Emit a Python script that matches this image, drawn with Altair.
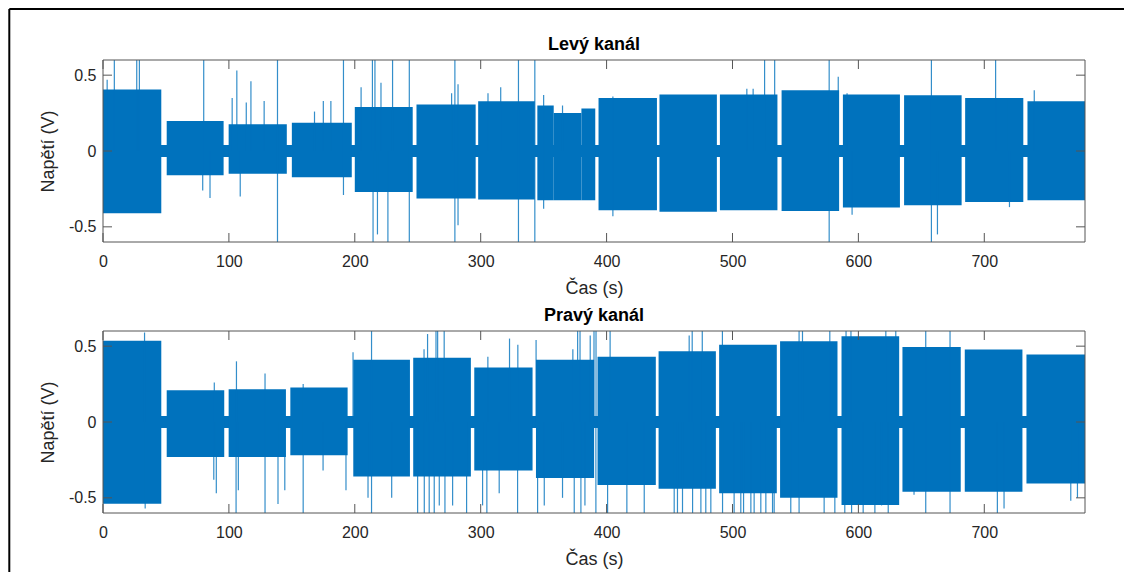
import altair as alt
import pandas as pd

BLUE = "#0072BD"
FONT = "Liberation Sans"

# ---------------- data ----------------
TICKS_X = [0, 100, 200, 300, 400, 500, 600, 700]
TICKS_Y = [-0.5, 0, 0.5]

# idle level between blocks (both channels)
IDLE_T0 = [0]
IDLE_T1 = [780]
IDLE_LO = [-0.04]
IDLE_HI = [0.04]

# Left channel: signal blocks (s, V)
L_start = [0, 50.6, 99.8, 150, 200, 249, 298, 345, 358, 380, 393.6, 442, 490, 539, 587.7, 636.3, 684.8, 734.3]
L_end = [46.3, 95.8, 146, 197.6, 246, 296, 343, 358, 380, 391, 440, 487.6, 535.7, 584.7, 633, 682, 731, 780]
L_upper = [0.405, 0.197, 0.176, 0.186, 0.29, 0.306, 0.328, 0.30, 0.25, 0.28, 0.35, 0.372, 0.372, 0.40, 0.372, 0.367, 0.35, 0.328]
L_lower = [-0.41, -0.16, -0.15, -0.173, -0.27, -0.314, -0.32, -0.325, -0.325, -0.325, -0.39, -0.40, -0.39, -0.395, -0.373, -0.358, -0.337, -0.325]

# Left channel spikes
L_up_t = [3.3, 9, 26.8, 28.9, 80, 102.6, 106.3, 113.8, 117.5, 128, 168, 175, 181, 191, 205, 214, 216, 220.8, 230, 276.9,
          282, 305.8, 315.9, 350, 365, 405, 511.4, 516.4, 525.5, 533.5, 584, 591, 709, 718, 739.7]
L_up_v = [0.47, 0.6, 0.6, 0.6, 0.6, 0.35, 0.53, 0.32, 0.46, 0.33, 0.26, 0.33, 0.33, 0.6, 0.42, 0.6, 0.6, 0.45, 0.6, 0.38,
          0.44, 0.38, 0.42, 0.37, 0.30, 0.36, 0.41, 0.41, 0.6, 0.6, 0.49, 0.38, 0.6, 0.34, 0.40]
L_down_t = [79.2, 85, 109, 191, 214.5, 218, 226.3, 282, 350, 405, 595, 662.8, 720]
L_down_v = [-0.26, -0.31, -0.30, -0.29, -0.6, -0.55, -0.6, -0.49, -0.38, -0.43, -0.42, -0.55, -0.37]
L_full_t = [138.6, 243.3, 279.5, 330, 343, 576.8, 658]

# Right channel: signal blocks (s, V)
R_start = [0, 50.6, 99.8, 148.8, 198.8, 246.4, 294.9, 343.9, 392.8, 441.3, 489.4, 537.8, 586.6, 635, 684.5, 733.5]
R_end = [46.3, 96.3, 145.3, 194.3, 243.8, 292.2, 341.2, 390.1, 439.1, 486.8, 535.2, 583.4, 632.4, 681.3, 730.3, 780]
R_upper = [0.535, 0.21, 0.216, 0.227, 0.41, 0.424, 0.36, 0.41, 0.43, 0.467, 0.51, 0.533, 0.566, 0.494, 0.478, 0.445]
R_lower = [-0.539, -0.23, -0.23, -0.22, -0.36, -0.36, -0.32, -0.37, -0.416, -0.44, -0.47, -0.50, -0.547, -0.46, -0.46, -0.406]

# Right channel spikes
R_up_t = [33, 88.4, 106, 128.7, 159, 198.6, 255, 257.8, 264.5, 265.8, 271, 305.7, 322.9, 329.5, 344, 373.2, 377, 378.9,
          387, 390, 391.6, 402.8, 465.6, 468, 476, 492, 552.9, 555.6, 577.3, 590.2, 594.1, 621.8, 629.7, 653.5, 672.8]
R_up_v = [0.59, 0.26, 0.40, 0.32, 0.25, 0.46, 0.48, 0.58, 0.6, 0.6, 0.6, 0.43, 0.55, 0.51, 0.54, 0.48, 0.6, 0.6,
          0.57, 0.6, 0.6, 0.6, 0.57, 0.6, 0.6, 0.6, 0.6, 0.6, 0.6, 0.6, 0.6, 0.6, 0.6, 0.6, 0.6]
R_down_t = [33.5, 88, 90, 105.7, 107.5, 128.7, 139, 144.4, 159, 174.8, 193, 210.5, 229.3, 249.9, 255.2, 259.1, 263.1,
            267.1, 271.6, 277.7, 288.8, 301.5, 304.9, 314.7, 329.3, 345.2, 350.5, 365, 374.3, 379.6, 382.8, 391.5,
            400.8, 416.1, 429.9, 453.7, 456.3, 460.3, 468.3, 474.9, 478.8, 482.8, 492.1, 501.3, 506.6, 508.8, 514.6,
            517.2, 522.5, 526.5, 531.8, 533.1, 546.3, 552.9, 572.8, 581.3, 589.2, 594.6, 603.8, 613.1, 618.4, 623.7,
            644.2, 653.5, 672.8, 710.4, 715.7, 768.7, 774]
R_down_v = [-0.57, -0.38, -0.47, -0.6, -0.45, -0.6, -0.54, -0.45, -0.6, -0.32, -0.45, -0.5, -0.5, -0.6, -0.6, -0.6, -0.6,
            -0.55, -0.6, -0.55, -0.6, -0.55, -0.6, -0.47, -0.6, -0.6, -0.55, -0.5, -0.6, -0.6, -0.55, -0.6,
            -0.6, -0.6, -0.6, -0.6, -0.6, -0.6, -0.6, -0.6, -0.6, -0.6, -0.6, -0.6, -0.6, -0.6, -0.6,
            -0.6, -0.6, -0.6, -0.6, -0.6, -0.6, -0.6, -0.6, -0.6, -0.6, -0.6, -0.6, -0.6, -0.55, -0.6,
            -0.48, -0.6, -0.6, -0.6, -0.57, -0.52, -0.5]
R_full_t = [213.3]

# ---------------- layout / style ----------------
W, H = 982, 182
TICK_LEN = 9
BOX = "#555555"

xs = alt.Scale(domain=[0, 780], nice=False, zero=False)
ys = alt.Scale(domain=[-0.6, 0.6], nice=False, zero=False)
xax = alt.Axis(values=TICKS_X, title="Čas (s)", grid=False, ticks=False, domain=False,
               labelPadding=11, titlePadding=10, labelFontSize=16, titleFontSize=18, labelFlush=False)
yax = alt.Axis(values=TICKS_Y, title="Napětí (V)", grid=False, ticks=False, domain=False,
               labelPadding=7, titlePadding=11, labelFontSize=16, titleFontSize=18,
               labelExpr="toString(datum.value)")


def spikes_df(up_t, up_v, down_t, down_v, full_t):
    t = up_t + down_t + full_t
    lo = [0.0] * len(up_t) + down_v + [-0.6] * len(full_t)
    hi = up_v + [0.0] * len(down_t) + [0.6] * len(full_t)
    return pd.DataFrame({"t": t, "lo": lo, "hi": hi})


def panel(title, start, end, upper, lower, spikes, frame):
    idle = pd.DataFrame({"t0": IDLE_T0, "t1": IDLE_T1, "lo": IDLE_LO, "hi": IDLE_HI})
    seg = pd.DataFrame({"start": start, "end": end, "upper": upper, "lower": lower})
    xt = pd.DataFrame({"v": TICKS_X})
    yt = pd.DataFrame({"v": TICKS_Y})
    one = pd.DataFrame({"title": [title]})

    idle_l = alt.Chart(idle).mark_rect(color=BLUE).encode(
        x=alt.X("t0:Q", scale=xs, axis=xax), x2="t1:Q",
        y=alt.Y("lo:Q", scale=ys, axis=yax), y2="hi:Q")
    seg_l = alt.Chart(seg).mark_rect(color=BLUE).encode(
        x=alt.X("start:Q", scale=xs, axis=xax), x2="end:Q",
        y=alt.Y("lower:Q", scale=ys, axis=yax), y2="upper:Q")
    spk_l = alt.Chart(spikes).mark_rule(color=BLUE, opacity=0.8, strokeWidth=1.2).encode(
        x=alt.X("t:Q", scale=xs, axis=xax),
        y=alt.Y("lo:Q", scale=ys, axis=yax), y2="hi:Q")
    xt_top = alt.Chart(xt).mark_rule(color=BOX).encode(
        x=alt.X("v:Q", scale=xs, axis=xax), y=alt.value(0), y2=alt.value(TICK_LEN))
    xt_bot = alt.Chart(xt).mark_rule(color=BOX).encode(
        x=alt.X("v:Q", scale=xs, axis=xax), y=alt.value(H - TICK_LEN), y2=alt.value(H))
    yt_l = alt.Chart(yt).mark_rule(color=BOX).encode(
        y=alt.Y("v:Q", scale=ys, axis=yax), x=alt.value(0), x2=alt.value(TICK_LEN))
    yt_r = alt.Chart(yt).mark_rule(color=BOX).encode(
        y=alt.Y("v:Q", scale=ys, axis=yax), x=alt.value(W - TICK_LEN), x2=alt.value(W))
    box = alt.Chart(one).mark_rect(fillOpacity=0, stroke=BOX, strokeWidth=1).encode(
        x=alt.value(0), x2=alt.value(W), y=alt.value(0), y2=alt.value(H))
    ttl = alt.Chart(one).mark_text(fontSize=18, fontWeight="bold", color="black", font=FONT,
                                   baseline="alphabetic", align="center").encode(
        text="title:N", x=alt.value(W / 2), y=alt.value(-10.5))
    layers = [idle_l, seg_l, spk_l, xt_top, xt_bot, yt_l, yt_r, box, ttl]
    if frame:
        left = alt.Chart(one).mark_rule(color="black", strokeWidth=2).encode(
            x=alt.value(-93.7), y=alt.value(-51), y2=alt.value(512))
        top = alt.Chart(one).mark_rule(color="black", strokeWidth=2).encode(
            x=alt.value(-93.7), x2=alt.value(1021), y=alt.value(-51))
        layers += [left, top]
    return alt.layer(*layers).properties(width=W, height=H)


top_panel = panel("Levý kanál", L_start, L_end, L_upper, L_lower,
                  spikes_df(L_up_t, L_up_v, L_down_t, L_down_v, L_full_t), True)
bottom_panel = panel("Pravý kanál", R_start, R_end, R_upper, R_lower,
                     spikes_df(R_up_t, R_up_v, R_down_t, R_down_v, R_full_t), False)

chart = alt.vconcat(top_panel, bottom_panel, spacing=89, bounds="flush").properties(
    padding=0
).configure(font=FONT).configure_axis(
    labelColor="#262626", titleColor="#262626", titleFontWeight="normal", labelFont=FONT, titleFont=FONT
).configure_view(stroke=None)

chart.save("out.html", embed_options={"renderer": "svg", "actions": False})
